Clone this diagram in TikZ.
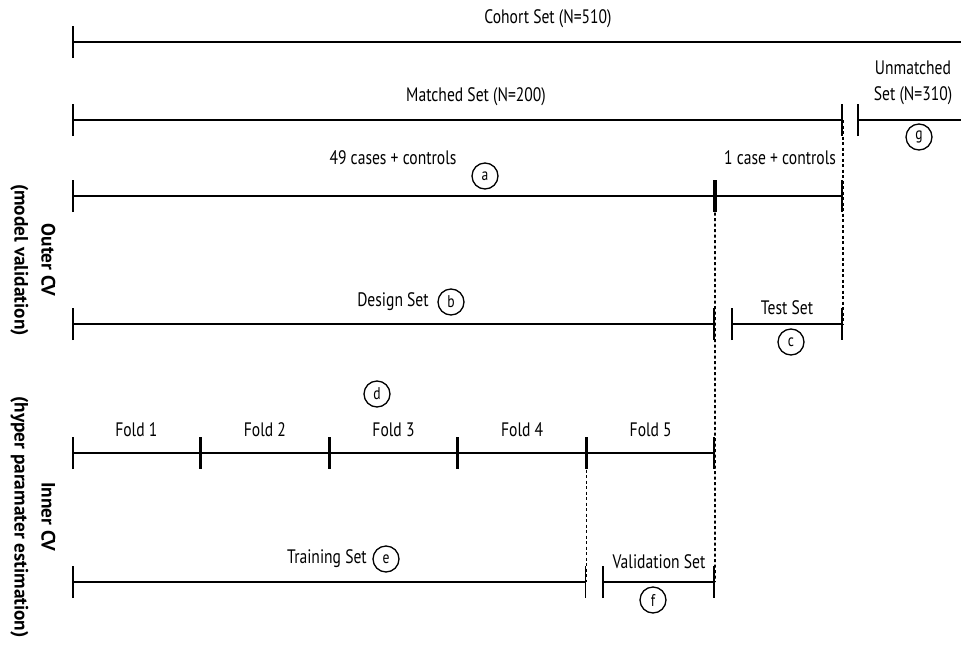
\documentclass[tikz,border=0pt]{standalone}
\usepackage{fontspec}
\setmainfont{PT Sans}[FakeStretch=0.8]
\newfontfamily\cvfont{PT Sans}
\usetikzlibrary{arrows.meta,calc}
\tikzset{
  tk/.tip={Bar[width=32pt]},
  seg/.style={line width=1.6pt, tk-tk},
  guide/.style={line width=1.8pt, dash pattern=on 3pt off 2.5pt},
  lbl/.style={inner sep=0pt, font=\fontsize{19.5}{26}\selectfont},
  tag/.style={circle, draw, line width=1.3pt, minimum size=26pt, inner sep=0pt, font=\fontsize{17}{17}\selectfont},
  cv/.style={rotate=-90, align=center, inner sep=0pt, font=\cvfont\bfseries\fontsize{19.3}{27}\selectfont}
}
\begin{document}
\begin{tikzpicture}[x=1pt,y=-1pt]
\useasboundingbox (0,0) rectangle (961,659);
% end points
\coordinate (c0) at (72,42);
\coordinate (c1) at (961,42);
\coordinate (m0) at (72,120);
\coordinate (m1) at (843,120);
\coordinate (u0) at (857,120);
\coordinate (u1) at (961,120);
\coordinate (a0) at (72,196);
\coordinate (a1) at (715,196);
\coordinate (a2) at (843,196);
\coordinate (b0) at (72,324);
\coordinate (b1) at (715,324);
\coordinate (t0) at (731,324);
\coordinate (t1) at (843,324);
\foreach \i in {0,...,5}
  \coordinate (f\i) at (72+128.6*\i,453);
\coordinate (r0) at (72,582);
\coordinate (r1) at (f4 |- r0);
\coordinate (v0) at (602,582);
\coordinate (v1) at (f5 |- r0);
% dotted guides
\draw[guide] (m1) -- (t1);
\draw[guide] (a1) -- (v1);
\draw[guide] (f4) -- (r1);
% sets
\draw[line width=1.6pt, tk-] (c0) -- (c1);
\draw[seg] (m0) -- (m1);
\draw[line width=1.6pt, tk-] (u0) -- (u1);
\draw[seg] (a0) -- (a1);
\draw[seg] (a1) -- (a2);
\draw[seg] (b0) -- (b1);
\draw[seg] (t0) -- (t1);
\foreach \i [count=\j] in {0,...,4}
  \draw[seg] (f\i) -- (f\j);
\draw[seg] (r0) -- (r1);
\draw[seg] (v0) -- (v1);
% labels
\node[lbl] (lcohort) at (548,19) {Cohort Set (N=510)};
\node[lbl] (lmatched) at (476,97) {Matched Set (N=200)};
\node[lbl, align=center] (lunmatched) at (913,83) {Unmatched\\Set (N=310)};
\node[tag] (g) at (919,137) {g};
\node[lbl] (lcases) at (393,158) {49 cases + controls};
\node[tag] (a) at (485,176) {a};
\node[lbl] (lcase) at (780,158) {1 case + controls};
\node[lbl] (ldesign) at (393,302) {Design Set};
\node[tag] (b) at (451,302) {b};
\node[lbl] (ltest) at (787,308) {Test Set};
\node[tag] (c) at (791,342) {c};
\node[tag] (d) at (377,394) {d};
\foreach \i [count=\j] in {0,...,4}
  \node[lbl] (lfold\j) at ($(f\i)!0.5!(f\j)+(0,-23)$) {Fold \j};
\node[lbl] (ltrain) at (327,559) {Training Set};
\node[tag] (e) at (386,559) {e};
\node[lbl] (lvalid) at (659,562) {Validation Set};
\node[tag] (f) at (653,600) {f};
\node[cv] (outer) at (33,260) {Outer CV\\(model validation)};
\node[cv] (inner) at (33,517) {Inner CV\\(hyper paramater estimation)};
\end{tikzpicture}
\end{document}
